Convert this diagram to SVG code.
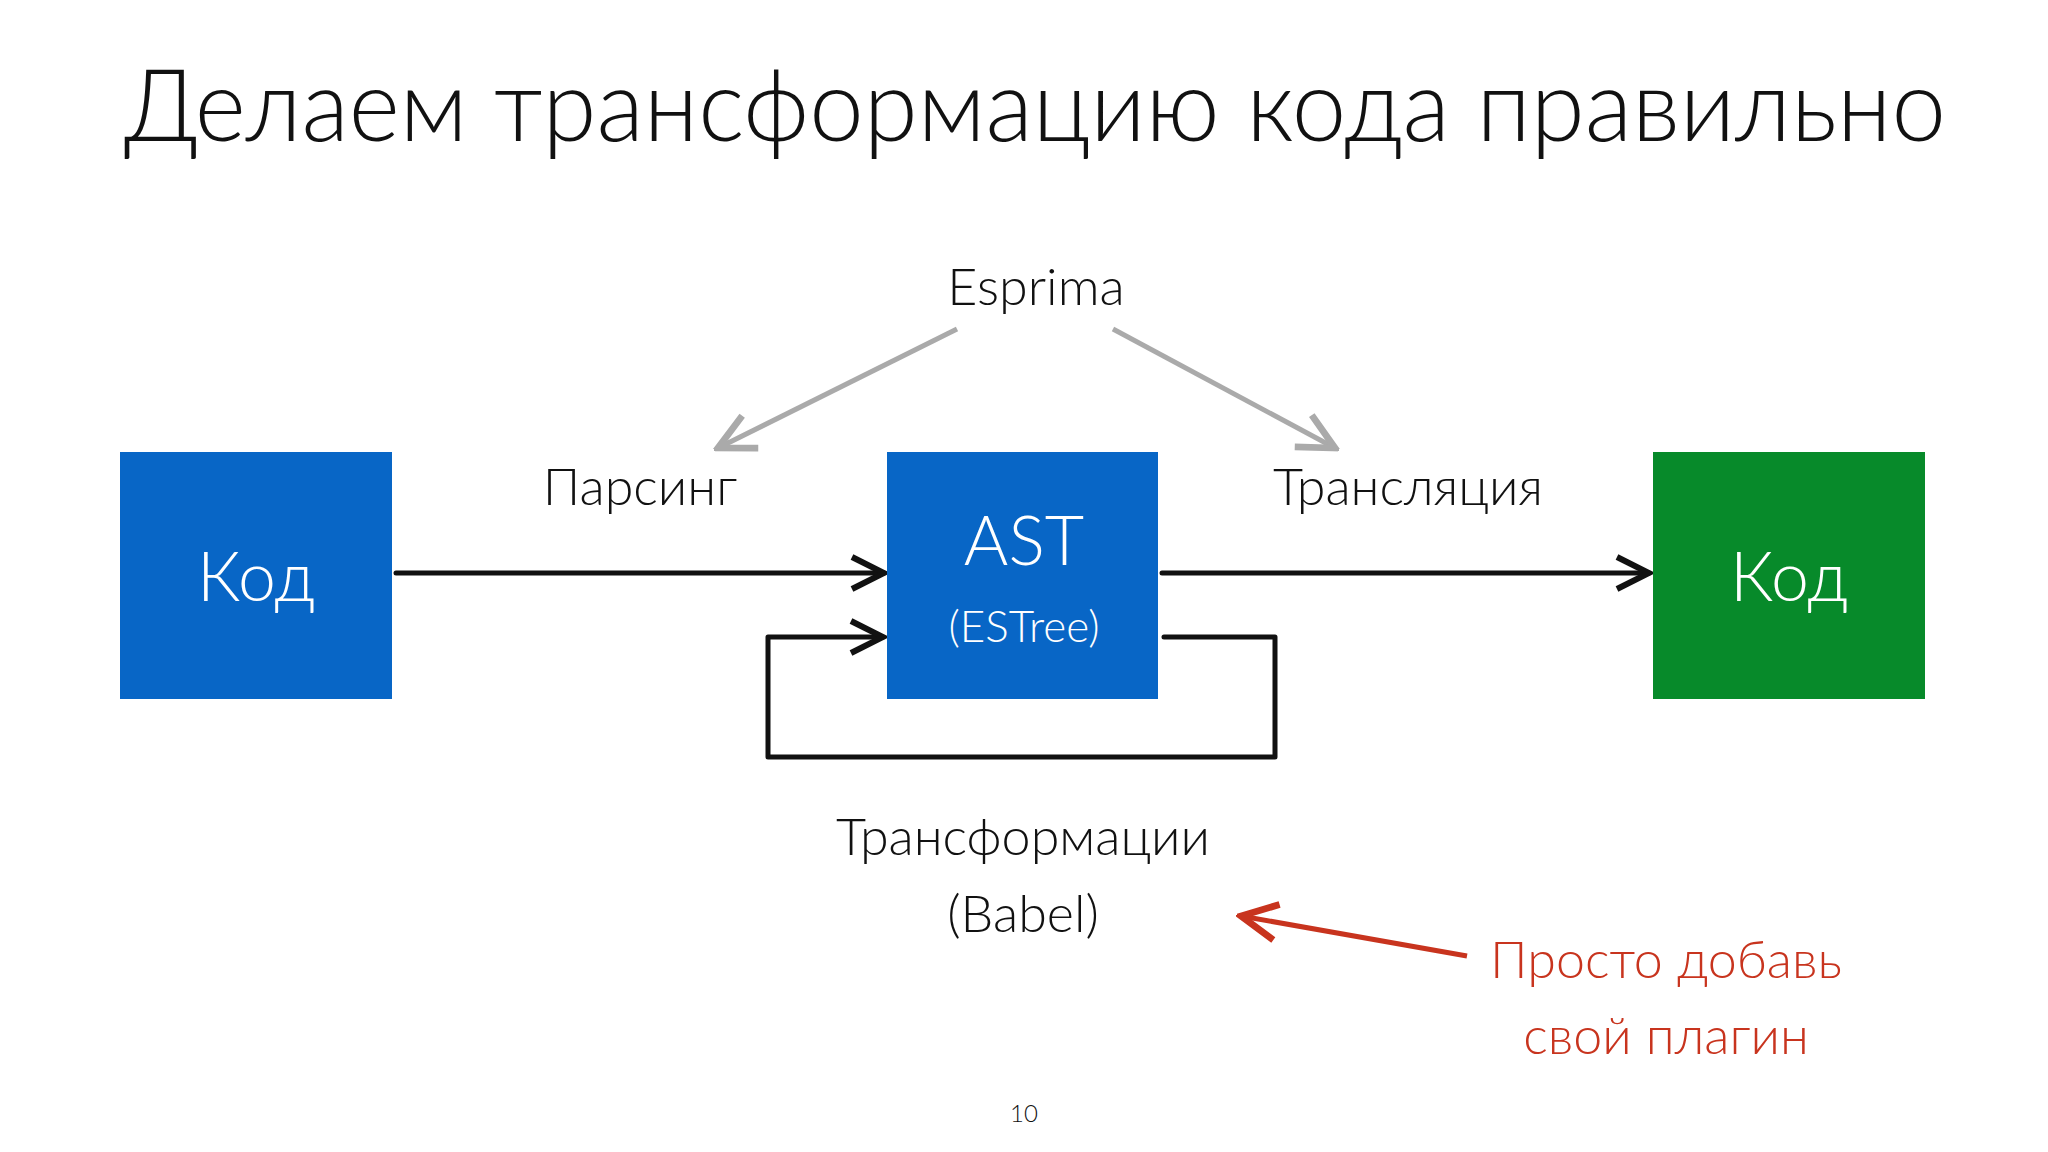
<svg xmlns="http://www.w3.org/2000/svg" width="2048" height="1152" viewBox="0 0 2048 1152">
<style>
text{font-family:Lato,"Open Sans","Liberation Sans",sans-serif;font-weight:300}
.lbl{font-size:52px;fill:#111;text-anchor:middle}
.box{font-size:68px;fill:#fff;text-anchor:middle}
.red{font-size:52px;fill:#C8341E;text-anchor:middle}
.blk{fill:none;stroke:#111;stroke-width:5;stroke-linecap:round;stroke-linejoin:round}
</style>
<defs>
<marker id="ab" viewBox="0 0 20 20" refX="18" refY="10" markerWidth="8" markerHeight="8" orient="auto" markerUnits="strokeWidth"><path d="M2,2 L18,10 L2,18" fill="none" stroke="#111" stroke-width="3"/></marker>
<marker id="ag" viewBox="0 0 20 20" refX="18" refY="10" markerWidth="9" markerHeight="9" orient="auto" markerUnits="strokeWidth"><path d="M2,2 L18,10 L2,18" fill="none" stroke="#aaa" stroke-width="3"/></marker>
<marker id="ar" viewBox="0 0 20 20" refX="18" refY="10" markerWidth="9" markerHeight="9" orient="auto" markerUnits="strokeWidth"><path d="M2,2 L18,10 L2,18" fill="none" stroke="#C8341E" stroke-width="3"/></marker>
</defs>
<rect width="2048" height="1152" fill="#fff"/>
<text x="1035" y="141" font-size="100" fill="#111" text-anchor="middle" textLength="1822" lengthAdjust="spacingAndGlyphs">Делаем трансформацию кода правильно</text>
<g id="connectors">
<path class="blk" d="M396,573 L884,573" marker-end="url(#ab)"/>
<path class="blk" d="M1162,573 L1649,573" marker-end="url(#ab)"/>
<path class="blk" d="M1164,637 L1275,637 L1275,757 L768,757 L768,637 L883,637" marker-end="url(#ab)"/>
<path d="M957,329 L718,448" fill="none" stroke="#aaa" stroke-width="5" marker-end="url(#ag)"/>
<path d="M1113,329 L1335,448" fill="none" stroke="#aaa" stroke-width="5" marker-end="url(#ag)"/>
<path d="M1467,956 L1241,916" fill="none" stroke="#C8341E" stroke-width="5" marker-end="url(#ar)"/>
</g>
<g id="code1"><rect x="120" y="452" width="272" height="247" fill="#0866C6"/><text class="box" x="256" y="601">Код</text></g>
<g id="ast"><rect x="887" y="452" width="271" height="247" fill="#0866C6"/><text class="box" x="1024" y="565">AST</text><text x="1024" y="642" font-size="44" fill="#fff" text-anchor="middle">(ESTree)</text></g>
<g id="code2"><rect x="1653" y="452" width="272" height="247" fill="#078A2A"/><text class="box" x="1789" y="601">Код</text></g>
<g id="labels">
<text class="lbl" x="1036" y="305">Esprima</text>
<text class="lbl" x="640" y="505">Парсинг</text>
<text class="lbl" x="1408" y="505">Трансляция</text>
<text class="lbl" x="1023" y="855">Трансформации</text>
<text class="lbl" x="1023" y="932">(Babel)</text>
<text class="red" x="1666" y="978">Просто добавь</text>
<text class="red" x="1666" y="1054">свой плагин</text>
<text x="1024" y="1122" font-size="24" fill="#111" text-anchor="middle">10</text>
</g>
</svg>
